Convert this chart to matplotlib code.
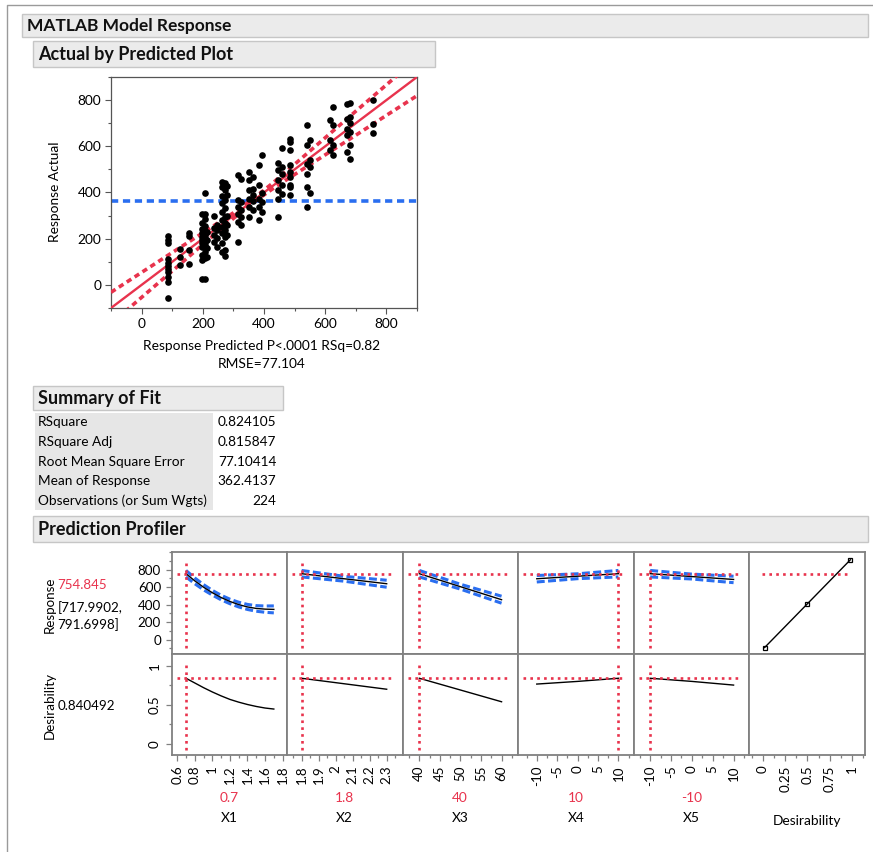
import numpy as np
import matplotlib.pyplot as plt
from matplotlib.patches import Rectangle
from matplotlib.ticker import MultipleLocator

plt.rcParams['font.family'] = ['Lato', 'DejaVu Sans']

W, H = 873, 852
RED = '#e8334d'
BLUE = '#2a6ef0'
GRAY = '#808080'

# Actual by Predicted: points
pred = ([87] * 11 + [127] * 3 + [155] * 4 + [197] * 11 + [208] * 12 + [215] * 4
        + [237] * 4 + [247] * 4 + [262] * 10 + [272] * 10 + [280] * 5
        + [315] * 6 + [326] * 5 + [352] * 6 + [365] * 5 + [383] * 5 + [395] * 4
        + [446] * 6 + [458] * 5 + [484] * 9 + [542] * 6 + [550] * 4
        + [615] * 3 + [626] * 4 + [670] * 5 + [682] * 6 + [756] * 3)
actual = ([210, 195, 180, 110, 95, 80, 68, 58, 36, 12, -55]
          + [155, 119, 86]
          + [226, 213, 151, 91]
          + [306, 266, 243, 223, 209, 194, 180, 165, 129, 108, 25]
          + [306, 286, 255, 232, 216, 201, 187, 173, 144, 115, 27, 396]
          + [230, 195, 160, 120]
          + [299, 245, 216, 187]
          + [259, 237, 201, 165]
          + [446, 422, 384, 353, 317, 281, 252, 223, 180, 144]
          + [439, 410, 367, 334, 295, 266, 237, 209, 151, 125]
          + [430, 390, 300, 260, 215]
          + [475, 367, 338, 309, 273, 184]
          + [460, 360, 324, 295, 259]
          + [489, 453, 410, 374, 338, 295]
          + [468, 417, 388, 363, 324]
          + [518, 432, 374, 338, 281]
          + [564, 396, 360, 317]
          + [528, 496, 453, 410, 374, 295]
          + [594, 511, 482, 432, 393]
          + [633, 619, 583, 518, 489, 468, 432, 424, 388]
          + [694, 604, 525, 482, 424, 338]
          + [626, 540, 511, 399]
          + [715, 629, 583]
          + [770, 691, 604, 561]
          + [784, 719, 676, 647, 576]
          + [787, 729, 701, 662, 604, 547]
          + [799, 698, 659])
resp_mean = 362.4137
band_x = [-100, 0, 100, 200, 300, 362, 425, 500, 600, 700, 800, 900]
band_half = [68, 54, 40, 25, 12, 8, 12, 22, 37, 52, 66, 81]

fit_labels = ['RSquare', 'RSquare Adj', 'Root Mean Square Error',
              'Mean of Response', 'Observations (or Sum Wgts)']
fit_values = ['0.824105', '0.815847', '77.10414', '362.4137', '224']

# Prediction profiler traces
factor_names = ['X1', 'X2', 'X3', 'X4', 'X5']
factor_current = [0.7, 1.8, 40, 10, -10]
factor_current_text = ['0.7', '1.8', '40', '10', '-10']
x1_grid = [0.7, 0.8, 0.9, 1.0, 1.1, 1.2, 1.3, 1.4, 1.5, 1.6, 1.7]
x1_resp = [755, 673, 600, 537, 482, 437, 401, 374, 357, 349, 346]
x1_ci = [37, 33, 30, 27, 26, 26, 27, 29, 32, 36, 40]
x1_des = [0.84, 0.78, 0.72, 0.665, 0.615, 0.57, 0.535, 0.505, 0.48, 0.46, 0.447]
x2_grid = [1.8, 2.05, 2.3]
x2_resp = [755, 697, 640]
x2_ci = [37, 28, 40]
x2_des = [0.84, 0.77, 0.70]
x3_grid = [40, 50, 60]
x3_resp = [755, 606, 457]
x3_ci = [37, 28, 40]
x3_des = [0.84, 0.69, 0.54]
x4_grid = [-10, 0, 10]
x4_resp = [697, 726, 755]
x4_ci = [37, 28, 37]
x4_des = [0.766, 0.80, 0.84]
x5_grid = [-10, 0, 10]
x5_resp = [755, 722, 689]
x5_ci = [37, 28, 37]
x5_des = [0.84, 0.80, 0.753]
pred_response = 754.845
pred_interval = '[717.9902,\n791.6998]'
desirability = 0.840492
desfun_x = [0.0183, 0.5, 0.9819]
desfun_resp = [-91, 411, 914]

fig = plt.figure(figsize=(W / 100, H / 100), dpi=100)

bg = fig.add_axes([0, 0, 1, 1])
bg.set_xlim(0, W)
bg.set_ylim(H, 0)
bg.axis('off')


def px_axes(x0, y0, x1, y1):
    return fig.add_axes([x0 / W, 1 - y1 / H, (x1 - x0) / W, (y1 - y0) / H])


def header(x0, y0, x1, y1, text, size=13):
    bg.add_patch(Rectangle((x0, y0), x1 - x0, y1 - y0, facecolor='#ebebeb',
                           edgecolor='#c6c6c6', lw=1))
    bg.text(x0 + 5, (y0 + y1) / 2 + 0.5, text, fontsize=size, fontweight='bold',
            va='center', ha='left', color='#111111')


# outer frame
bg.plot([7, 7, W], [H, 5, 5], color='#9a9a9a', lw=1)
header(22, 14, 868, 37, 'MATLAB Model Response', 12.5)
header(33, 41, 435, 67, 'Actual by Predicted Plot')
header(33, 386, 283, 410, 'Summary of Fit')
header(33, 516, 868, 542, 'Prediction Profiler')

# ---- Actual by predicted plot
ax = px_axes(111, 77, 417, 308)
ax.scatter(pred, actual, s=23, color='black', linewidths=0, zorder=4)
ax.plot([-100, 900], [-100, 900], color=RED, lw=1.7, zorder=3)
bx = np.array(band_x, dtype=float)
bh = np.array(band_half, dtype=float)
ax.plot(bx, bx + bh, color=RED, lw=2.6, ls=(0, (1.5, 1.1)), zorder=3)
ax.plot(bx, bx - bh, color=RED, lw=2.6, ls=(0, (1.5, 1.1)), zorder=3)
ax.axhline(resp_mean, color=BLUE, lw=2.6, ls=(0, (2, 1.3)), zorder=2)
ax.set_xlim(-100, 900)
ax.set_ylim(-100, 900)
ax.set_xticks([0, 200, 400, 600, 800])
ax.set_yticks([0, 200, 400, 600, 800])
ax.xaxis.set_minor_locator(MultipleLocator(100))
ax.yaxis.set_minor_locator(MultipleLocator(100))
ax.tick_params(which='major', length=4, width=0.8, color='#555555', labelsize=9.9, pad=3)
ax.tick_params(which='minor', length=2.5, width=0.8, color='#555555')
for s in ax.spines.values():
    s.set_color('#555555')
    s.set_linewidth(0.9)
bg.text(262, 346.5, 'Response Predicted P<.0001 RSq=0.82', fontsize=9.9,
        ha='center', va='center')
bg.text(262, 364.5, 'RMSE=77.104', fontsize=9.9, ha='center', va='center')
bg.text(55, 192, 'Response Actual', fontsize=9.9, ha='center', va='center',
        rotation=90)

# ---- Summary of fit table
bg.add_patch(Rectangle((35, 413), 178, 97, facecolor='#e6e6e6', edgecolor='none'))
for k, (lab, val) in enumerate(zip(fit_labels, fit_values)):
    yy = 422 + k * 19.8
    bg.text(37.5, yy, lab, fontsize=9.8, ha='left', va='center')
    bg.text(276.5, yy, val, fontsize=9.8, ha='right', va='center')

# ---- Prediction profiler
col_x = [171.5, 287, 402.5, 518, 633.5, 749, 864.7]
row_y = [552.3, 654, 755]
grids = [x1_grid, x2_grid, x3_grid, x4_grid, x5_grid]
resps = [x1_resp, x2_resp, x3_resp, x4_resp, x5_resp]
cis = [x1_ci, x2_ci, x3_ci, x4_ci, x5_ci]
dess = [x1_des, x2_des, x3_des, x4_des, x5_des]
xlims = [(0.535, 1.85), (1.714, 2.393), (35.9, 64), (-14.6, 13.7), (-14, 13.7),
         (-0.157, 1.143)]
minors = [0.1, 0.05, 2.5, 2.5, 2.5, 0.125]
tick_lists = [[0.6, 0.8, 1, 1.2, 1.4, 1.6, 1.8], [1.8, 1.9, 2, 2.1, 2.2, 2.3],
              [40, 45, 50, 55, 60], [-10, -5, 0, 5, 10], [-10, -5, 0, 5, 10],
              [0, 0.25, 0.5, 0.75, 1]]
tick_text = [['0.6', '0.8', '1', '1.2', '1.4', '1.6', '1.8'],
             ['1.8', '1.9', '2', '2.1', '2.2', '2.3'],
             ['40', '45', '50', '55', '60'], ['-10', '-5', '0', '5', '10'],
             ['-10', '-5', '0', '5', '10'], ['0', '0.25', '0.5', '0.75', '1']]
dot = (0, (1, 1.6))

for i in range(6):
    for r in range(2):
        pa = px_axes(col_x[i], row_y[r], col_x[i + 1], row_y[r + 1])
        for s in pa.spines.values():
            s.set_color(GRAY)
            s.set_linewidth(1.3)
        pa.set_xlim(*xlims[i])
        if r == 0:
            pa.set_ylim(-165, 1000)
        else:
            pa.set_ylim(-0.14, 1.15)
        pa.tick_params(which='both', color=GRAY, width=0.9, labelsize=9.6)
        pa.tick_params(which='major', length=4)
        pa.tick_params(which='minor', length=2.5)
        if i == 0 and r == 0:
            pa.set_yticks([0, 200, 400, 600, 800])
            pa.yaxis.set_minor_locator(MultipleLocator(100))
        elif i == 0 and r == 1:
            pa.set_yticks([0, 0.5, 1])
            pa.set_yticklabels(['0', '0.5', '1'], rotation=90, va='center')
            pa.yaxis.set_minor_locator(MultipleLocator(0.25))
        else:
            pa.set_yticks([])
        if r == 1:
            pa.set_xticks(tick_lists[i])
            pa.set_xticklabels(tick_text[i], rotation=90)
            pa.xaxis.set_minor_locator(MultipleLocator(minors[i]))
        else:
            pa.set_xticks([])

        if i < 5:
            g = np.array(grids[i], dtype=float)
            if r == 0:
                rv = np.array(resps[i], dtype=float)
                cv = np.array(cis[i], dtype=float)
                pa.plot(g, rv + cv, color=BLUE, lw=2.2, ls=(0, (2.6, 1.1)))
                pa.plot(g, rv - cv, color=BLUE, lw=2.2, ls=(0, (2.6, 1.1)))
                pa.plot(g, rv, color='black', lw=1)
                pa.axhline(pred_response, xmin=0.045, xmax=0.92, color=RED,
                           lw=1.9, ls=dot)
                pa.axvline(factor_current[i], ymin=0.06, ymax=0.89, color=RED,
                           lw=1.9, ls=dot)
            else:
                pa.plot(g, dess[i], color='black', lw=1)
                pa.axhline(desirability, xmin=0.045, xmax=0.92, color=RED,
                           lw=1.9, ls=dot)
                pa.axvline(factor_current[i], ymin=0.05, ymax=0.89, color=RED,
                           lw=1.9, ls=dot)
        elif r == 0:
            pa.plot(desfun_x, desfun_resp, color='black', lw=1, marker='s',
                    markersize=3.5, markerfacecolor='none', markeredgewidth=0.9)
            pa.axhline(pred_response, xmin=0.11, xmax=0.87, color=RED,
                       lw=1.9, ls=dot)

# profiler side and bottom texts
bg.text(50, 605, 'Response', fontsize=9.6, rotation=90, ha='center', va='center')
bg.text(57.5, 585, f'{pred_response:.3f}', fontsize=9.6, color=RED, ha='left', va='center')
bg.text(57.5, 616, pred_interval, fontsize=9.6, ha='left', va='center',
        linespacing=1.4)
bg.text(49.5, 705.5, 'Desirability', fontsize=9.6, rotation=90, ha='center', va='center')
bg.text(57.5, 706.5, f'{desirability:.6f}', fontsize=9.6, ha='left', va='center')
for i in range(5):
    cx = (col_x[i] + col_x[i + 1]) / 2
    bg.text(cx, 798.5, factor_current_text[i], fontsize=9.9, color=RED,
            ha='center', va='center')
    bg.text(cx, 818.5, factor_names[i], fontsize=9.9, ha='center', va='center')
bg.text((col_x[5] + col_x[6]) / 2, 821, 'Desirability', fontsize=9.9,
        ha='center', va='center')

fig.savefig('out.png', dpi=100)
